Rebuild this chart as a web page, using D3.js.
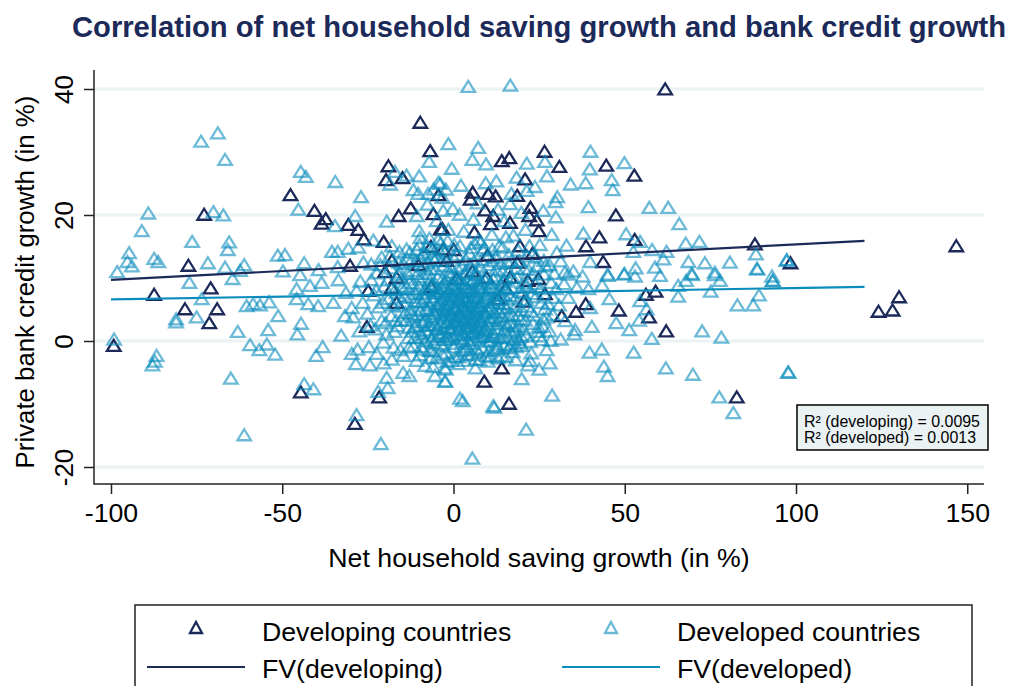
<!DOCTYPE html>
<html>
<head>
<meta charset="utf-8">
<script src="https://cdn.jsdelivr.net/npm/d3@7"></script>
<style>
  html, body { margin: 0; padding: 0; background: #fff; }
  svg { display: block; font-family: "Liberation Sans", Arial, sans-serif; }
</style>
</head>
<body>
<div id="chart"></div>
<script>
// values, [saving growth, credit growth]
var developing = [
  [-9.7,34.8],[-6.8,30.3],[-19,27.9],[-19.7,25.7],[-14.9,26],[-47.6,23.3],[-40.6,20.8],[-37.3,19.5],[-38.5,18.8],
  [-30.7,18.6],[-27.8,17.8],[-26.2,16.3],[-20.4,15.9],[-72.8,20.2],[-77.4,12.1],[-16,20],[-12.5,21.2],[-5.9,20.3],
  [-4.4,23.3],[-3.7,17.9],[-6.6,15.1],[-18,12.9],[-30.2,12.1],[-20,11.1],[-16.6,10.2],[-3,14.7],
  [61.8,40.1],[26.6,30.2],[16.3,29.2],[14.1,28.7],[30.9,27.8],[44.6,28],[52.8,26.4],[20.9,25.8],[5.6,23.7],[5,22.6],
  [10.2,23.5],[12.3,23.1],[18.6,23.2],[22.5,21.3],[9.2,20.9],[11.6,20],[47.4,20.1],[22.1,20],[24.3,19.3],[10.9,18.7],
  [16.5,18.9],[24.9,17.6],[42.6,16.6],[38.7,15.2],[52.9,16.2],[88,15.5],[98.4,12.5],[43.7,12.7],[19.4,15.2],[6.1,17.4],
  [0.1,14.6],[-3.2,17.9],[23.1,14],[18.6,12.6],[9.9,13.7],[-2,12.9],
  [146.8,15.2],[130.1,7.1],[128.2,5],[124.1,4.8],
  [-87.4,7.5],[-70.9,8.5],[-78.4,5.2],[-69,5.2],[-71.3,3],[-99.2,-0.6],[-44.6,-8],[-21.7,-8.8],[-28.8,-13],[-25.3,2.4],
  [-24.9,8.1],[-18,8.6],[-16.6,6.2],
  [9,-6.3],[14.1,-4.2],[16.2,-9.8],[31.6,4.1],[35.8,4.8],[38.6,6],[48.3,5],[56.2,7.5],[59,8],[57.1,3.9],[62.1,1.7],
  [82.7,-8.8],[21.7,9.7],[24.8,10],[26.7,7.6],[16.5,10.2],[9.7,10.2],[0.9,10],[15.2,8.5],[20.5,6.4],[13,6.8],[-6.5,8.7],
  [5.5,11.2],[-10.2,12.2]
];

var developed = [
  // upper left
  [-73.7,31.8],[-68.8,33.1],[-66.7,28.9],[-44.6,27],[-43.1,26.2],[-34.5,25.4],[-27,23],[-45.3,21],[-89.1,20.4],[-70.1,20.6],
  [-67.2,20.1],[-91,17.6],[-76.3,15.9],[-65.5,15.8],[-65.9,14.6],[-94.7,14.1],[-95.2,12.7],[-93.9,12],[-87.4,13.2],[-86.2,12.7],
  [-98.2,11.1],[-71.7,12.5],[-66.7,11.8],[-61.1,12.2],[-62.3,11.3],[-51.3,13.7],[-49.2,13.8],[-43.6,12.5],[-49.8,11.2],[-44.8,10.6],
  [-39.4,11.4],[-35.5,14.3],[-33.8,14.3],[-30.7,14.8],[-27.8,15],[-33.8,11.9],[-28.7,20],[-34.6,18.4],[-19.5,19.1],[-17.1,27],
  [-13.7,26.4],[-10,26.3],[-18.5,25],[-7.1,28.6],[-4.4,25.3],[-11.7,24.1],[-10.3,23.5],[-7.4,23.5],[-10.7,20],[-10,17.6],
  [-9.7,16.5],[-23.4,16.1],[-18,15.2],[-15.8,14.3],[-13.7,14.7],[-21,13.4],[-24,12.3],[-8.5,14.2],[-5.5,12.9],[-1.5,31.4],
  [-3,20.8],[-4.9,19.2],[-7.6,21.8],[-2.2,24.2],[-5.8,24.2],[-3.2,22.9],
  // upper right
  [4.3,40.5],[16.6,40.7],[7.2,30.8],[5.5,28.9],[21.4,28.3],[26.7,28.6],[27.3,26.3],[18.4,26.1],[23.8,24.6],[21.4,24],
  [9.4,25.2],[34.2,25],[38.6,25.2],[40,30.2],[39.8,27.4],[49.9,28.4],[46.2,25.7],[46.5,24.1],[30.3,23],[29.8,22.2],
  [16.9,23.5],[16.5,21.9],[39.4,21.4],[57.2,21.3],[62.7,21.3],[65.9,18.7],[37.9,17.2],[50.4,17.1],[29.9,19.8],[26.2,20.8],
  [28.7,17],[54.5,15.9],[52.5,14.3],[58,14.6],[62.2,14.3],[67.8,15.6],[71.8,15.9],[88.3,13.9],[61.3,13.1],[68.6,12.7],
  [73.4,12.5],[80.7,12.6],[88.7,11.5],[97.3,13],[39.9,12.7],[45,10.7],[49.9,10.8],[53.2,11.7],[58.8,11.8],[69.5,10.8],
  [76.3,11],[93,10.4],[28,12.2],[32.5,11],[35,11.2],[-0.2,21.1],[5.8,19.4],[-3.9,25.1],[3,17.5],[-1.5,17.8],
  [-4.5,16.2],[7,22],[2.2,24.8],[12.5,25.5],[13,21],[14.8,19.2],[19.8,20.5],[21,17.8],[17.5,16.9],[11.2,17],
  [8,15.8],[14.3,15],[25.2,15.4],[21.5,13.6],[26.4,12.9],[30.2,14.2],[33,15.3],[-0.5,27.5],[1.8,20.2],[9.5,28.2],
  [97.3,12.9],[93.2,9.7],[97.8,-4.9],
  // lower left
  [-77.1,9.4],[-64.5,10],[-73.5,6.8],[-75,3.9],[-81,3.6],[-81,3.1],[-99.1,0.4],[-86.7,-2.2],[-87.2,-3.1],[-87.9,-3.7],
  [-63,1.6],[-59.4,-0.5],[-54.1,1.9],[-54.5,-0.4],[-56.7,-1.3],[-52.1,-2],[-65,-5.8],[-61.1,-14.8],[-21.2,-16.2],[-28.3,-11.6],
  [-43.6,-6.7],[-40.9,-7.5],[-60.4,5.7],[-58.5,6],[-56.5,5.8],[-53.8,6.3],[-51.2,4.1],[-44.5,2.9],[-45.6,1.2],[-45.8,8.4],
  [-45.8,6.8],[-42.4,6],[-39.5,5.7],[-35.1,6.2],[-33.6,9.8],[-38.5,9.4],[-41.9,8.9],[-31.4,7.8],[-28.3,8.1],[-29.7,5.4],
  [-31.7,4.1],[-29.3,3.9],[-32.8,1],[-38.2,-0.8],[-40.1,-2.2],[-29.7,-1.9],[-28,-1.2],[-28.5,-3.5],[-24.4,-3.7],[-22.4,-1.9],
  [-20.5,-0.1],[-27.5,1.7],[-22.9,2],[-19.5,-5.7],[-19.2,-7.3],[-22,-7.9],[-14.7,-4.9],[-12.9,-5.4],[-5.4,-5.4],[-2.5,-6.3],
  [-8.3,-3.8],[-18,-2.8],[-15.5,-1.3],[-20.4,-3.4],[-10.8,-3],[-6,-4],[-2.3,-4.4],
  // lower right
  [-2.4,-6.3],[1.9,-9],[2.7,-9.4],[11.6,-10.2],[11.9,-10.4],[5.5,-18.5],[21.2,-13.9],[28.8,-8.5],[19.9,-5.9],[25,-4.4],
  [28.1,-3.4],[21.8,-3.7],[22.3,-3],[18.2,-2.9],[15.3,-2.4],[10,-3.1],[1.4,-3.5],[-2.5,-4.2],[19.9,-0.6],[16.3,-1],
  [7.2,-1.7],[25.8,0.3],[31.3,0.4],[35.3,1.2],[35.5,1.9],[40.4,2.4],[39.7,-1.7],[43.3,-1.2],[43.9,-3.9],[45,-5.4],
  [47.5,3],[51.3,1.9],[54.2,3.4],[56.4,5.2],[52.6,-1.7],[57.9,0.5],[62,-4.2],[69.9,-5.2],[72.6,1.7],[78.2,0.7],
  [82.9,5.8],[87.5,5.8],[89.2,7.4],[75.1,8],[65.6,7.2],[65.6,8.9],[67.9,9.7],[69.7,10.6],[76.3,10.6],[77.8,9.7],
  [93.2,9.7],[88.6,11.6],[77.6,-8.8],[81.7,-11.3],[97.7,-4.8],[45.5,6.8],[43.4,9],[54.5,6.5],[39.9,5.4],[32.6,3.3],
  [45.1,10.5],[49.8,10.7],[53,10.4],[60.3,10.5],[37.7,10.4],[33.5,10.7],[32.3,9.2],[36,8.6],[33.5,7],[39.4,8.4],
  [29.1,7],[26.7,5.2],[26.2,3.6],[24.8,2.3],[20.4,2],[18,1.7],[18.9,0.4],[27.2,3.9],[22.5,4.8],[24,7.1],
  [-0.7,-3],[4.2,-2.1],[12.4,-1.2],[6.4,-4.2],[14.5,0.6],[11,0.2],[21.4,8.9],[28.5,9.4],[30.8,5.8],[23.4,10.8],
  // middle band around the origin
  [-26.5,6.2],[-25.1,4.5],[-24,9.8],[-23.2,7.4],[-22.4,10.9],[-21.8,5.5],[-21,3.4],[-20.2,8.8],[-19.6,1.2],[-19,6.8],
  [-18.4,11.7],[-18.2,4.1],[-17.5,-0.9],[-17.1,8.2],[-16.4,2.5],[-16,12.6],[-15.8,5.6],[-15.2,10],[-14.6,-2.2],[-14.3,7.2],
  [-13.9,3.4],[-13.5,13.1],[-13.2,0.6],[-12.8,9.4],[-12.4,5.1],[-12,11.3],[-11.7,-0.7],[-11.4,2.4],[-11,7.6],[-10.7,14.6],
  [-10.4,4.3],[-10,9.9],[-9.8,-2.1],[-9.5,1.2],[-9.2,6.2],[-8.9,12],[-8.6,3.2],[-8.3,8.4],[-8,0.1],[-7.8,15.3],
  [-7.5,5],[-7.2,10.8],[-7,-1.4],[-6.7,2.6],[-6.4,7.1],[-6.2,13.5],[-5.9,0.9],[-5.6,4.4],[-5.4,9],[-5.2,11.5],
  [-4.9,-2.5],[-4.7,6],[-4.4,2],[-4.2,14.5],[-3.9,7.8],[-3.7,-0.4],[-3.5,4],[-3.2,10],[-3,12.1],[-2.8,1.4],
  [-2.6,5.7],[-2.3,8.6],[-2.1,-1.8],[-1.9,3.1],[-1.7,16],[-1.5,6.7],[-1.3,0.4],[-1.1,11],[-0.9,4.8],[-0.7,9],
  [-0.5,2.2],[-0.3,7.4],[-0.1,13.4],[0.1,-0.9],[0.3,5.2],[0.5,3.4],[0.7,10.4],[0.9,1],[1.1,6.5],[1.3,8.2],
  [1.5,-2.4],[1.7,4.2],[1.9,15.2],[2.1,2.5],[2.3,7.5],[2.5,12],[2.7,0],[2.9,5.6],[3.1,9.2],[3.3,3.4],
  [3.5,-1.2],[3.7,6.6],[3.9,11],[4.1,1.6],[4.3,4.6],[4.5,8],[4.7,14],[4.9,-0.3],[5.1,3],[5.3,6],
  [5.5,9.7],[5.7,1.2],[5.9,12.7],[6.1,4.2],[6.3,7.3],[6.5,-2.8],[6.7,2.2],[6.9,10.6],[7.1,5.4],[7.3,16.2],
  [7.5,0.6],[7.7,8.6],[7.9,3.3],[8.1,6.3],[8.3,13],[8.5,-1],[8.7,1.7],[8.9,10],[9.1,4.6],[9.3,7.6],
  [9.6,-2.2],[9.9,2.8],[10.2,12.2],[10.5,5.7],[10.8,8.7],[11.1,0.9],[11.4,14.6],[11.7,3.8],[12,6.7],[12.3,10.4],
  [12.6,-0.4],[12.9,2],[13.2,8],[13.5,4.7],[13.8,12.4],[14.1,-2.2],[14.4,6.1],[14.7,2.9],[15,9.6],[15.3,16.6],
  [15.7,0.9],[16.1,4.2],[16.5,7.3],[16.9,12.8],[17.3,-1.6],[17.7,2.6],[18.1,5.6],[18.5,10.2],[18.9,14.5],[19.3,-0.2],
  [19.7,3.6],[20.2,7.8],[20.7,11.6],[21.2,1],[21.7,5.6],[22.2,15.2],[22.7,-1.8],[23.2,2.9],[23.8,9.2],[24.4,12],
  [25,0.9],[25.7,6.2],[26.4,10.7],[27.2,-1.3],[28,1.7],[29,4.3],[30,8.4],[31.3,12.8],[-24.7,-0.8],[-26.3,12.6]
];

// the solid centre of the cloud, single marks cannot be told apart here
var developedCentre = [
  [-11.2,6.4],[-10.8,2.6],[-10.1,8.8],[-9.7,4.9],[-9.1,0.7],[-8.8,10.3],[-8.4,6.9],[-8.1,3.5],[-7.7,8.2],[-7.4,1.4],
  [-7.1,5.8],[-6.8,11.6],[-6.5,3.9],[-6.2,9.1],[-5.9,6.5],[-5.7,-0.2],[-5.4,2.7],[-5.1,7.6],[-4.8,4.6],[-4.6,10.2],
  [-4.3,0.8],[-4.1,6.1],[-3.8,3],[-3.6,8.7],[-3.3,12.8],[-3.1,5.2],[-2.9,-0.7],[-2.7,2.3],[-2.5,7.1],[-2.2,4.1],
  [-2,9.8],[-1.8,0.9],[-1.6,5.9],[-1.4,3.2],[-1.2,7.9],[-1,11.9],[-0.8,1.7],[-0.6,6.2],[-0.4,4.3],[-0.2,9.1],
  [0,2.8],[0.2,7.2],[0.4,-0.3],[0.6,5.4],[0.8,3.9],[1,8.8],[1.2,11.6],[1.4,1.9],[1.6,6.8],[1.8,4.7],
  [2,9.9],[2.2,0.5],[2.4,3.3],[2.6,7.8],[2.8,5.6],[3,1.1],[3.2,10.8],[3.4,6.4],[3.6,3.8],[3.8,8.5],
  [4,-0.8],[4.2,2.4],[4.4,5.8],[4.6,7.1],[4.8,12.2],[5,4.4],[5.2,9.3],[5.4,1.6],[5.6,6.9],[5.8,3.5],
  [6,8],[6.2,0.3],[6.4,10.9],[6.6,5.2],[6.8,2.7],[7,7],[7.2,4.4],[7.4,9.5],[7.6,1.9],[7.8,11.9],
  [8,5.7],[8.2,3.1],[8.4,7.9],[8.6,0.8],[8.8,6.5],[9,4],[9.2,9.9],[9.4,2],[9.7,7.3],[10,5],
  [10.3,0],[10.6,3.3],[10.9,9.3],[11.2,6.2],[11.5,1.4],[11.8,8.3],[12.1,4.6],[12.4,11.5],[12.7,2.8],[13,6],
  [13.4,0.6],[13.8,9.1],[14.2,4],[14.6,7.4],[15,1.8],[15.5,5.4],[16,11],[16.5,3],[17,8.6],[17.6,0.3],
  [-11.7,4],[-10.5,10.8],[-9.3,3.1],[-8.7,7.7],[-8,5.2],[-7.3,2.6],[-6.9,9.7],[-6.4,0.4],[-6,4.9],[-5.5,8],
  [-5,2],[-4.6,5.5],[-4.2,8.1],[-3.9,1.2],[-3.4,6.7],[-3,3.7],[-2.6,9.4],[-2.4,0.3],[-2.1,5],[-1.7,7.4],
  [-1.3,2.1],[-1,4.4],[-0.7,10.5],[-0.4,6.8],[-0.1,0.7],[0.3,3.1],[0.5,8.1],[0.9,5],[1.3,2.9],[1.5,10],
  [1.9,6.2],[2.1,3.9],[2.5,1.3],[2.7,8.6],[3,4.9],[3.3,7],[3.5,2.1],[3.9,5.1],[4.1,9.8],[4.3,0.2],
  [4.6,3.6],[4.9,6.4],[5.1,8.2],[5.5,2.4],[5.7,4.9],[6,10],[6.3,1.4],[6.5,6.2],[6.9,3.8],[7.1,8.9],
  [7.5,5.6],[7.8,0.9],[8.1,2.4],[8.5,9.2],[8.9,4.8],[9.3,6.9],[9.8,1],[10.2,8.2],[10.7,3.7],[11,5.3],
  [11.6,10],[12,0.8],[12.5,6.8],[13,3.4],[13.6,7.4],[14,5.2],[14.8,9.9],[15.6,2.6],[16.4,6],[17.3,4.2],
  [-15,8.6],[-14,4.6],[-13.4,10.8],[-12.6,7],[-12,1.6],[-13,-0.9],[-9,-1.2],[-6.6,-2.6],[-3.2,-2.1],[0.6,-2.4],
  [3.2,-3],[6.8,-1.2],[10.4,-1.4],[13,-2.6],[16.8,-0.4],[19,2.4],[20,5],[19.4,8],[18.4,11.6],[15.8,12.6],
  [12.2,13.4],[8.6,14.5],[5,14.9],[1,13.8],[-2.6,14.2],[-6,14.8],[-9.6,13.2],[-12.4,12.8],[-15.6,11],[-16.8,3.4],
  // ring just outside the solid part
  [-22.6,8.2],[-21.4,12.2],[-20.6,6.2],[-19.8,3],[-19.2,9.8],[-18.6,13.6],[-17.8,5.8],[-17.2,1.6],[-16.6,7.8],[-16,10.6],
  [-15.4,3.4],[-14.8,12.4],[-14.4,6],[-13.8,8.8],[-13.1,2.2],[-12.7,14.2],[-12.2,4.4],[-11.8,9.2],[-11.3,0.6],[-10.9,12.9],
  [-10.3,6.4],[-9.9,15.4],[-9.4,-0.8],[-8.9,13.9],[-8.2,1.8],[-7.6,12.6],[-7,16.4],[-6.3,-1.5],[-4.9,13.4],[-3.7,15.7],
  [-1.9,-3.2],[0.2,15.4],[2.4,-1.4],[3.6,13],[5.2,-2],[6.2,15.6],[7.6,-2.9],[9,14.9],[10.6,-2.4],[11.6,12.8],
  [12.9,-0.9],[13.4,15.2],[14.3,11.2],[14.9,-0.6],[15.6,8.3],[16.2,13.8],[16.8,1.4],[17.2,10.2],[17.9,6.8],[18.3,-0.8],
  [18.8,4.2],[19.2,12.8],[19.8,0.8],[20.4,9.4],[20.9,3.4],[21.3,6.6],[21.9,11.4],[22.4,0],[22.9,7.6],[23.5,4.2],
  [24.1,13.4],[24.7,1.6],[25.4,8.4],[26.1,2.4],[26.8,12],[27.6,6],[28.4,0.2],[29.4,10.8],[-24.2,2.6],[-27.2,9.6]
];

// fitted lines, end values
var fitX = [-100, 120];
var fitDeveloping = [9.7, 15.9];
var fitDeveloped = [6.6, 8.6];

var xTicks = [-100, -50, 0, 50, 100, 150];
var yTicks = [-20, 0, 20, 40];

var width = 1010;
var height = 686;

var navy = "#1c2a5a";
var teal = "#0a8cbd";
var grid = "#eaf2f3";

var svg = d3.select("#chart")
  .append("svg")
  .attr("width", width)
  .attr("height", height);

// scales are pinned to the ticks of the picture
var x = d3.scaleLinear().domain([-100, 100]).range([111, 796]);
var y = d3.scaleLinear().domain([-20, 40]).range([467, 89]);

var plotLeft = 94, plotRight = 984, plotTop = 70, plotBottom = 484;

// title
svg.append("text")
  .attr("x", 539)
  .attr("y", 37)
  .attr("text-anchor", "middle")
  .attr("font-size", 29.2)
  .attr("font-weight", "bold")
  .attr("fill", navy)
  .text("Correlation of net household saving growth and bank credit growth");

// grid
svg.append("g").selectAll("line")
  .data(yTicks)
  .enter()
  .append("line")
  .attr("x1", plotLeft)
  .attr("x2", plotRight)
  .attr("y1", d => y(d))
  .attr("y2", d => y(d))
  .attr("stroke", grid)
  .attr("stroke-width", 3);

// triangle marker centred on the value
function triangle(px, py) {
  return "M" + px + "," + (py - 5) + "L" + (px + 6.8) + "," + (py + 6) + "L" + (px - 6.8) + "," + (py + 6) + "Z";
}

svg.append("g").selectAll("path")
  .data(developing)
  .enter()
  .append("path")
  .attr("d", d => triangle(x(d[0]), y(d[1])))
  .attr("fill", "none")
  .attr("stroke", navy)
  .attr("stroke-width", 2.3);

svg.append("g").selectAll("path")
  .data(developed.concat(developedCentre))
  .enter()
  .append("path")
  .attr("d", d => triangle(x(d[0]), y(d[1])))
  .attr("fill", "none")
  .attr("stroke", teal)
  .attr("stroke-opacity", 0.6)
  .attr("stroke-width", 2.3);

// fit lines
var fitLine = d3.line()
  .x(d => x(d[0]))
  .y(d => y(d[1]));

svg.append("path")
  .attr("d", fitLine(fitX.map((v, i) => [v, fitDeveloped[i]])))
  .attr("fill", "none")
  .attr("stroke", teal)
  .attr("stroke-width", 2.2);

svg.append("path")
  .attr("d", fitLine(fitX.map((v, i) => [v, fitDeveloping[i]])))
  .attr("fill", "none")
  .attr("stroke", navy)
  .attr("stroke-width", 2.2);

// axes
var xAxis = d3.axisBottom(x).tickValues(xTicks).tickSize(10).tickPadding(9).tickFormat(d => String(d));
var yAxis = d3.axisLeft(y).tickValues(yTicks).tickSize(10).tickFormat(d => String(d));

var gx = svg.append("g")
  .attr("transform", "translate(0," + plotBottom + ")")
  .call(xAxis);
gx.select(".domain").remove();
gx.selectAll("line").attr("stroke", "#222").attr("stroke-width", 1.5);
gx.selectAll("text")
  .attr("font-size", 26.7)
  .attr("font-family", "Liberation Sans")
  .attr("fill", "#000");

var gy = svg.append("g")
  .attr("transform", "translate(" + plotLeft + ",0)")
  .call(yAxis);
gy.select(".domain").remove();
gy.selectAll("line").attr("stroke", "#222").attr("stroke-width", 1.5);
gy.selectAll("text")
  .attr("font-size", 26)
  .attr("font-family", "Liberation Sans")
  .attr("fill", "#000")
  .attr("text-anchor", "middle")
  .attr("dy", null)
  .attr("x", 0)
  .attr("y", 0)
  .attr("transform", "translate(-21,0) rotate(-90)");

svg.append("path")
  .attr("d", "M" + plotLeft + "," + plotTop + "V" + plotBottom + "H" + plotRight)
  .attr("fill", "none")
  .attr("stroke", "#222")
  .attr("stroke-width", 1.5);

// axis titles
svg.append("text")
  .attr("x", 539)
  .attr("y", 567)
  .attr("text-anchor", "middle")
  .attr("font-size", 26.7)
  .text("Net household saving growth (in %)");

svg.append("text")
  .attr("transform", "translate(34,282) rotate(-90)")
  .attr("text-anchor", "middle")
  .attr("font-size", 25.8)
  .text("Private bank credit growth (in %)");

// R2 box
svg.append("rect")
  .attr("x", 797)
  .attr("y", 405)
  .attr("width", 191)
  .attr("height", 45)
  .attr("fill", grid)
  .attr("stroke", "#000")
  .attr("stroke-width", 1.5);

var r2Labels = ["R\u00B2 (developing) = 0.0095", "R\u00B2 (developed) = 0.0013"];
svg.append("g").selectAll("text")
  .data(r2Labels)
  .enter()
  .append("text")
  .attr("x", 804)
  .attr("y", (d, i) => 427 + i * 16)
  .attr("font-size", 16)
  .attr("textLength", (d, i) => i ? 172 : 176)
  .attr("lengthAdjust", "spacingAndGlyphs")
  .text(d => d);

// legend
svg.append("rect")
  .attr("x", 135)
  .attr("y", 605)
  .attr("width", 837)
  .attr("height", 90)
  .attr("fill", "#fff")
  .attr("stroke", "#222")
  .attr("stroke-width", 1.5);

svg.append("path")
  .attr("d", "M196,622L202,633H190Z")
  .attr("fill", "none")
  .attr("stroke", navy)
  .attr("stroke-width", 2.3);

svg.append("path")
  .attr("d", "M611,622L617,633H605Z")
  .attr("fill", "none")
  .attr("stroke", teal)
  .attr("stroke-opacity", 0.6)
  .attr("stroke-width", 2.3);

svg.append("line")
  .attr("x1", 147).attr("x2", 245).attr("y1", 667).attr("y2", 667)
  .attr("stroke", navy).attr("stroke-width", 2.2);

svg.append("line")
  .attr("x1", 562).attr("x2", 660).attr("y1", 667).attr("y2", 667)
  .attr("stroke", teal).attr("stroke-width", 2.2);

var legendLabels = ["Developing countries", "Developed countries", "FV(developing)", "FV(developed)"];
svg.append("g").selectAll("text")
  .data(legendLabels)
  .enter()
  .append("text")
  .attr("x", (d, i) => i % 2 ? 677 : 262)
  .attr("y", (d, i) => i < 2 ? 641 : 678)
  .attr("font-size", 26.7)
  .text(d => d);
</script>
</body>
</html>
